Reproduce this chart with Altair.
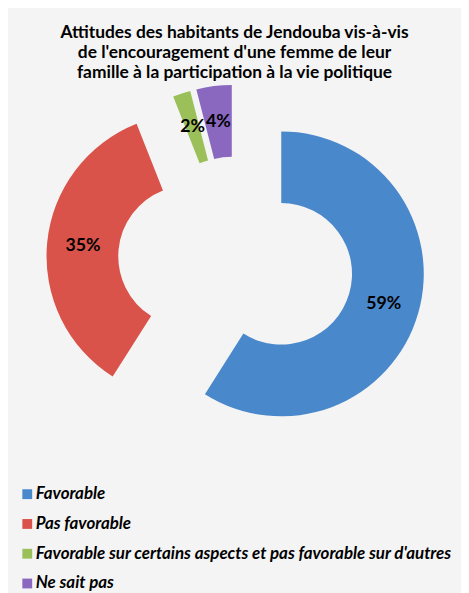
import altair as alt
import pandas as pd

categories = [
    "Favorable",
    "Pas favorable",
    "Favorable sur certains aspects et pas favorable sur d'autres",
    "Ne sait pas",
]
values = [59, 35, 2, 4]
labels = ["59%", "35%", "2%", "4%"]
colors = ["#4a88cc", "#d9534a", "#9bc05a", "#8a68c0"]

title_lines = [
    "Attitudes des habitants de Jendouba vis-à-vis",
    "de l'encouragement d'une femme de leur",
    "famille à la participation à la vie politique",
]

df = pd.DataFrame({"cat": categories, "value": values, "label": labels})

CX, CY = 232, 192
INNER, OUTER = 72, 145
RL = (INNER + OUTER) / 2

base = (
    alt.Chart(df)
    .transform_window(idx="row_number()")
    .transform_joinaggregate(total="sum(value)")
    .transform_window(cum="sum(value)", sort=[alt.SortField("idx")], frame=[None, 0])
    .transform_calculate(
        t0="(datum.cum - datum.value) / datum.total * 2 * PI",
        t1="datum.cum / datum.total * 2 * PI",
    )
    .transform_calculate(mid="(datum.t0 + datum.t1) / 2")
    .transform_calculate(ex="datum.value < 10 ? 34 : 48")
    .transform_calculate(
        px=f"{CX} + datum.ex * sin(datum.mid)",
        py=f"{CY} - datum.ex * cos(datum.mid)",
    )
    .transform_calculate(
        lx=f"datum.px + {RL} * sin(datum.mid)",
        ly=f"datum.py - {RL} * cos(datum.mid)",
    )
)

arcs = base.mark_arc(innerRadius=INNER, outerRadius=OUTER).encode(
    theta=alt.Theta("t0:Q", scale=None),
    theta2="t1:Q",
    x=alt.X("px:Q", scale=None),
    y=alt.Y("py:Q", scale=None),
    color=alt.Color(
        "cat:N",
        scale=alt.Scale(domain=categories, range=colors),
        legend=alt.Legend(
            title=None,
            orient="none",
            legendX=11,
            legendY=421,
            direction="vertical",
            symbolType="square",
            symbolSize=100,
            symbolStrokeWidth=0,
            labelFont="Lato",
            labelFontSize=17.2,
            labelFontStyle="italic",
            labelFontWeight="bold",
            labelColor="#000000",
            labelLimit=0,
            rowPadding=12.3,
            labelOffset=0,
        ),
    ),
    order=alt.Order("idx:Q"),
)

texts = base.mark_text(
    font="Lato", fontSize=18, fontWeight="bold", color="#000000"
).encode(
    x=alt.X("lx:Q", scale=None),
    y=alt.Y("ly:Q", scale=None),
    text="label:N",
)

chart = (
    alt.layer(arcs, texts)
    .properties(
        width=461,
        height=585,
        autosize=alt.AutoSizeParams(type="fit", contains="padding"),
        padding={"top": 11, "left": 0, "right": 0, "bottom": 0},
        background="#f4f4f4",
        title=alt.TitleParams(
            text=title_lines,
            font="Lato",
            fontSize=17.7,
            fontWeight="bold",
            color="#000000",
            anchor="middle",
            lineHeight=20.5,
            offset=10,
            dy=20,
        ),
    )
    .configure_view(stroke=None)
)

chart.save("out.html", embed_options={"renderer": "svg", "actions": False})
